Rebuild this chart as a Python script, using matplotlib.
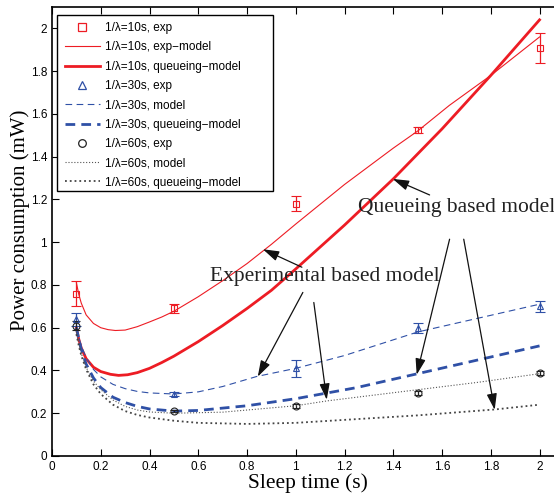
import numpy as np
import matplotlib
matplotlib.use("Agg")
import matplotlib.pyplot as plt
from matplotlib.lines import Line2D
from matplotlib.patches import Rectangle

# measured points (sleep time, power, error)
x_exp = [0.1, 0.5, 1.0, 1.5, 2.0]
p10_exp = [0.76, 0.69, 1.18, 1.525, 1.91]
e10_exp = [0.06, 0.02, 0.035, 0.015, 0.07]
p30_exp = [0.64, 0.29, 0.41, 0.598, 0.70]
e30_exp = [0.03, 0.01, 0.04, 0.025, 0.025]
p60_exp = [0.61, 0.21, 0.235, 0.294, 0.388]
e60_exp = [0.02, 0.006, 0.01, 0.01, 0.01]

# model curves
x_m10 = [0.1, 0.11, 0.12, 0.14, 0.17, 0.2, 0.23, 0.26, 0.3, 0.35, 0.4, 0.45, 0.5, 0.6, 0.7, 0.8, 0.9, 1.0,
         1.2, 1.4, 1.5, 1.63, 1.8, 2.0]
p10_model = [0.81, 0.755, 0.715, 0.66, 0.62, 0.60, 0.591, 0.587, 0.589, 0.605, 0.627, 0.65, 0.677, 0.745, 0.82,
             0.9, 0.99, 1.085, 1.27, 1.44, 1.52, 1.64, 1.78, 1.96]
x_q10 = [0.1, 0.11, 0.12, 0.14, 0.17, 0.2, 0.24, 0.273, 0.31, 0.35, 0.4, 0.45, 0.5, 0.6, 0.7, 0.8, 0.9, 1.0,
         1.2, 1.4, 1.6, 1.8, 2.0]
p10_queue = [0.60, 0.545, 0.505, 0.455, 0.415, 0.395, 0.382, 0.377, 0.38, 0.39, 0.41, 0.437, 0.467, 0.535, 0.61,
             0.69, 0.775, 0.875, 1.08, 1.296, 1.53, 1.78, 2.04]

x_m30 = [0.1, 0.11, 0.12, 0.14, 0.17, 0.2, 0.25, 0.3, 0.35, 0.4, 0.5, 0.6, 0.7, 0.84, 1.0, 1.2, 1.5, 1.75, 2.0]
p30_model = [0.60, 0.555, 0.515, 0.46, 0.405, 0.37, 0.335, 0.315, 0.302, 0.295, 0.29, 0.30, 0.325, 0.372, 0.41,
             0.47, 0.58, 0.645, 0.71]
x_q30 = [0.1, 0.11, 0.12, 0.14, 0.17, 0.2, 0.25, 0.3, 0.35, 0.4, 0.5, 0.6, 0.8, 1.0, 1.25, 1.5, 1.75, 2.0]
p30_queue = [0.60, 0.545, 0.50, 0.43, 0.365, 0.32, 0.275, 0.25, 0.232, 0.22, 0.21, 0.213, 0.235, 0.268, 0.32,
             0.385, 0.45, 0.515]

x_m60 = [0.1, 0.11, 0.12, 0.14, 0.17, 0.2, 0.25, 0.3, 0.35, 0.4, 0.5, 0.7, 1.0, 1.13, 1.5, 1.75, 2.0]
p60_model = [0.58, 0.525, 0.48, 0.415, 0.35, 0.31, 0.262, 0.232, 0.215, 0.206, 0.20, 0.205, 0.235, 0.258, 0.31,
             0.345, 0.385]
x_q60 = [0.1, 0.11, 0.12, 0.14, 0.17, 0.2, 0.25, 0.3, 0.35, 0.4, 0.5, 0.6, 0.8, 1.0, 1.5, 1.82, 2.0]
p60_queue = [0.57, 0.515, 0.47, 0.405, 0.335, 0.29, 0.24, 0.21, 0.192, 0.18, 0.165, 0.155, 0.15, 0.155, 0.19,
             0.218, 0.24]

red = '#ed1c24'
blue = '#2f50a6'
black = '#222222'

fig = plt.figure(figsize=(5.54, 4.95), dpi=100)
ax = fig.add_axes([0.0939, 0.0788, 0.924, 0.907])

ax.errorbar(x_exp, p10_exp, yerr=e10_exp, fmt='s', color=red, mfc='none', ms=5, mew=0.8,
            elinewidth=0.9, capsize=3.3)
h2, = ax.plot(x_m10, p10_model, '-', color=red, lw=0.8, label='1/\u03bb=10s, exp\u2212model')
h3, = ax.plot(x_q10, p10_queue, '-', color=red, lw=2.0, label='1/\u03bb=10s, queueing\u2212model')
ax.errorbar(x_exp, p30_exp, yerr=e30_exp, fmt='^', color=blue, mfc='none', ms=5, mew=0.8,
            elinewidth=0.9, capsize=3.3)
h5, = ax.plot(x_m30, p30_model, '--', color=blue, lw=0.8, dashes=(6, 4), label='1/\u03bb=30s, model')
h6, = ax.plot(x_q30, p30_queue, '--', color=blue, lw=2.0, dashes=(3.5, 2.2),
              label='1/\u03bb=30s, queueing\u2212model')
ax.errorbar(x_exp, p60_exp, yerr=e60_exp, fmt='o', color=black, mfc='none', ms=5, mew=0.8,
            elinewidth=0.9, capsize=3)
h8, = ax.plot(x_m60, p60_model, ':', color='#555555', lw=0.8, label='1/\u03bb=60s, model')
h9, = ax.plot(x_q60, p60_queue, ':', color='#444444', lw=1.3, label='1/\u03bb=60s, queueing\u2212model')

# legend entries for the measurements show only the marker
h1 = Line2D([], [], ls='none', marker='s', color=red, mfc='none', ms=5.5, mew=0.9, label='1/\u03bb=10s, exp')
h4 = Line2D([], [], ls='none', marker='^', color=blue, mfc='none', ms=5.5, mew=0.9, label='1/\u03bb=30s, exp')
h7 = Line2D([], [], ls='none', marker='o', color=black, mfc='none', ms=5.5, mew=0.9, label='1/\u03bb=60s, exp')

ax.set_xlim(0, 2.1)
ax.set_ylim(0, 2.1)
ticks = ['0', '0.2', '0.4', '0.6', '0.8', '1', '1.2', '1.4', '1.6', '1.8', '2']
ax.set_xticks(np.arange(0, 2.01, 0.2))
ax.set_yticks(np.arange(0, 2.01, 0.2))
ax.set_xticklabels(ticks)
ax.set_yticklabels(ticks)
ax.tick_params(direction='in', top=True, right=True, length=5, width=0.8,
               labelsize=8.5)
for lab in ax.get_xticklabels() + ax.get_yticklabels():
    lab.set_family('Liberation Sans')
for s in ax.spines.values():
    s.set_linewidth(1.2)

ax.set_xlabel('Sleep time (s)', family='Liberation Serif', fontsize=15.5, labelpad=0)
ax.set_ylabel('Power consumption (mW)', family='Liberation Serif', fontsize=15)
ax.yaxis.set_label_coords(-0.043, 0.526)

leg = ax.legend(handles=[h1, h2, h3, h4, h5, h6, h7, h8, h9],
                loc='upper left', bbox_to_anchor=(0.012, 0.981), borderaxespad=0,
                prop={'family': 'Liberation Sans', 'size': 8.5}, frameon=False,
                labelspacing=0.62, handlelength=3.0, handletextpad=0.4, borderpad=0.55)
ax.add_patch(Rectangle((0.0098, 0.590), 0.4218, 0.392, transform=ax.transAxes,
                       fill=True, facecolor='white', edgecolor='black', lw=1.0, zorder=4.9))
leg.set_zorder(5)

# annotations
ax.text(1.254, 1.164, 'Queueing based model', family='Liberation Serif', fontsize=15.5,
        va='center', ha='left', color='#222222')
ax.text(0.648, 0.84, 'Experimental based model', family='Liberation Serif', fontsize=15.5,
        va='center', ha='left', color='#222222')

arrow = dict(arrowstyle='-|>,head_length=0.7,head_width=0.22', color='#111111', lw=0.9,
             shrinkA=0, shrinkB=0, mutation_scale=14)
q_arrows = [((1.549, 1.221), (1.398, 1.296)),
            ((1.631, 1.014), (1.496, 0.380)),
            ((1.689, 1.014), (1.816, 0.216))]
e_arrows = [((1.025, 0.883), (0.865, 0.967)),
            ((1.029, 0.765), (0.844, 0.371)),
            ((1.074, 0.718), (1.127, 0.263))]
for start, end in q_arrows + e_arrows:
    ax.annotate('', xy=end, xytext=start, arrowprops=arrow)

fig.savefig('out.png', dpi=100)
